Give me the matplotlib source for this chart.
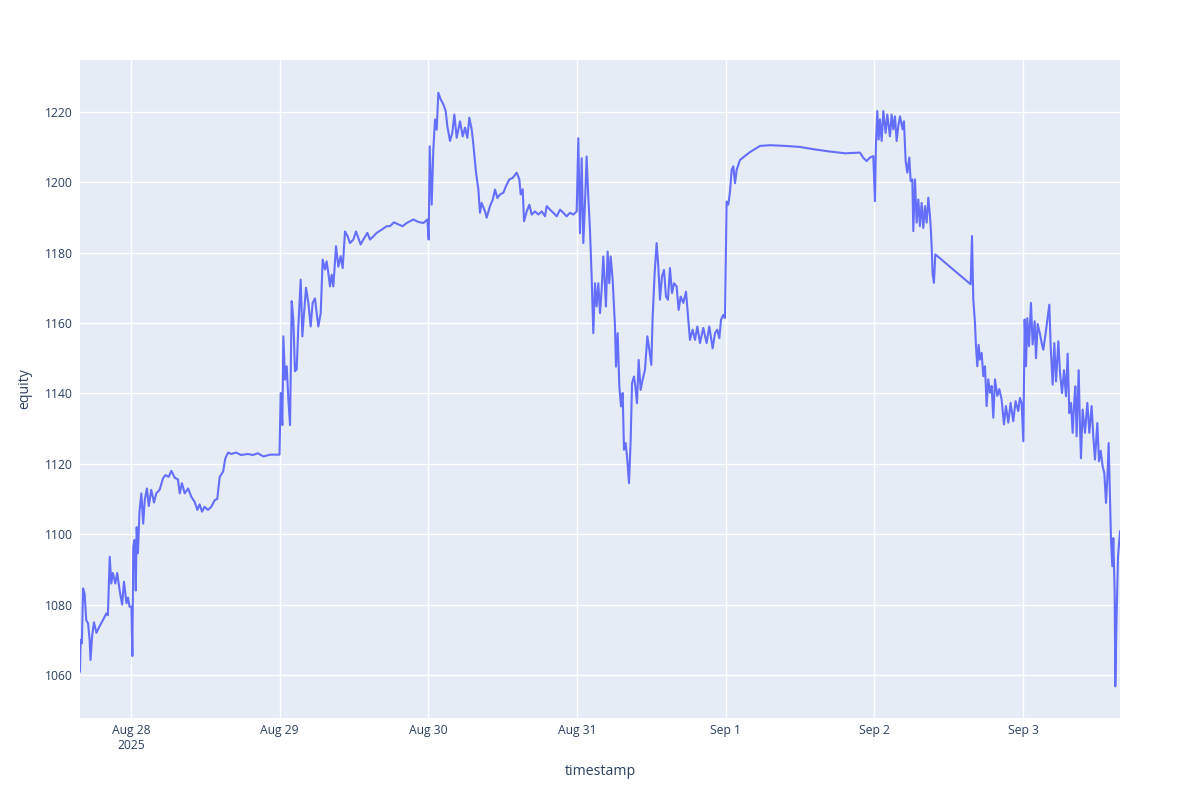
import pandas as pd
import matplotlib.pyplot as plt
import matplotlib.dates as mdates
from matplotlib.ticker import FuncFormatter

plt.rcParams['font.family'] = ['Open Sans', 'DejaVu Sans']

# hours since the first sample
hours = [
    0.0, 0.1, 0.3, 0.5, 0.75, 1.0, 1.3, 1.55, 1.7, 1.95, 2.25, 2.65, 3.2, 3.7, 4.25, 4.5, 4.8, 5.05, 5.3, 5.7,
    6.0, 6.4, 6.8, 7.1, 7.5, 7.75, 8.0, 8.3, 8.45, 8.6, 8.8, 9.0, 9.15, 9.35, 9.6, 9.9, 10.2, 10.45, 10.8, 11.1,
    11.5, 11.95, 12.3, 12.85, 13.4, 13.8, 14.3, 14.75, 15.3, 15.8, 16.1, 16.45, 16.9, 17.45, 17.95, 18.5, 18.95,
    19.3, 19.7, 20.1, 20.65, 21.2, 21.75, 22.15, 22.55, 23.1, 23.45, 23.9, 24.4, 25.2, 26.0, 27.1, 27.9, 28.7,
    29.6, 30.7, 32.2, 32.39, 32.66, 32.82, 33.09, 33.36, 33.63, 33.9, 34.17, 34.43, 34.7, 34.97, 35.24, 35.62,
    35.89, 36.16, 36.48, 36.86, 37.23, 37.55, 37.93, 38.2, 38.47, 38.85, 39.17, 39.55, 39.81, 40.08, 40.35,
    40.62, 40.89, 41.32, 41.7, 42.07, 42.4, 42.77, 43.2, 43.58, 44.12, 44.55, 44.93, 45.3, 45.73, 46.38, 46.81,
    47.35, 47.88, 48.69, 49.5, 50.04, 50.68, 51.38, 52.08, 52.73, 53.8, 54.61, 55.42, 56.06, 56.28, 56.44,
    56.76, 57.03, 57.3, 57.57, 57.84,
    58.22, 58.65, 59.02, 59.29, 59.72, 60.1, 60.42, 60.8, 61.34, 61.77, 62.14, 62.52, 62.84, 63.22, 63.49,
    63.92, 64.3, 64.56, 64.83, 65.37, 65.64, 66.18, 66.61, 66.99, 67.36, 67.79, 68.33, 68.76, 69.3, 69.84,
    70.48, 70.91, 71.13, 71.45, 71.67, 72.1, 72.53, 72.9, 73.44, 73.98, 74.52, 75.06, 75.32, 75.86, 76.4,
    76.94, 77.48, 78.01, 78.55, 79.09, 79.63, 80.17,
    80.43, 80.7, 80.97, 81.24, 81.51, 81.77, 82.04, 82.31, 82.58, 82.85, 83.12, 83.39, 83.66, 83.93, 84.2,
    84.46, 84.73, 84.89, 85.16, 85.43, 85.65, 85.97, 86.35, 86.51, 86.78, 87.05, 87.32, 87.59, 87.8, 88.07,
    88.34, 88.61, 88.88, 89.1, 89.41, 89.63, 89.9, 90.17, 90.49, 90.81, 91.19, 91.57, 91.89, 92.21, 92.43,
    92.75, 93.07, 93.34, 93.61, 93.93, 94.26, 94.58, 94.9, 95.22, 95.55, 95.87, 96.3, 96.62, 96.95, 97.38,
    97.81, 98.18, 98.45, 98.88, 99.26, 99.64, 100.07, 100.6, 101.14, 101.57, 102.11, 102.49, 102.86, 103.19,
    103.46, 103.83, 104.1, 104.37, 104.64, 104.91, 105.18, 105.45, 105.72, 105.99, 106.52,
    108.1, 109.75, 111.4, 113.8, 116.2, 118.6, 121.05, 123.5,
    125.89, 126.43, 126.97, 127.5, 128.04, 128.31, 128.47, 128.69, 128.9, 129.12, 129.39, 129.66, 130.03,
    130.3, 130.73, 131.0, 131.27, 131.54, 131.81, 132.08, 132.35, 132.78, 132.99, 133.26, 133.53, 133.85,
    134.07, 134.34, 134.5, 134.77, 135.04, 135.31, 135.57, 135.84, 136.11, 136.38, 136.65, 136.92, 137.19,
    137.3, 137.46, 137.62, 137.83, 138.05, 143.75, 143.97, 144.18, 144.45, 144.61, 144.83, 145.04, 145.26,
    145.53, 145.8, 146.07, 146.33, 146.6, 146.87, 147.14, 147.41, 147.68, 148.06, 148.38, 148.75, 149.13,
    149.45, 149.83, 150.2, 150.63, 151.01, 151.44, 151.71, 151.98,
    152.26, 152.47, 152.69, 152.9, 153.17, 153.49, 153.76, 154.09, 154.3, 154.57, 154.95, 155.22, 155.48,
    155.86, 156.13, 156.45, 156.67, 156.99, 157.26, 157.53, 157.91, 158.18, 158.5, 158.82, 159.14, 159.41,
    159.68, 159.95, 160.22, 160.43, 160.65, 160.86, 161.19, 161.4, 161.56, 161.83, 162.21, 162.59, 162.91,
    163.28, 163.55, 163.82, 164.2, 164.47, 164.74, 165.06, 165.33, 165.6, 165.81, 166.03, 166.24, 166.41,
    166.62, 166.78, 167.0, 167.1, 167.32, 167.54, 167.86,
]

equity = [
    1061, 1070, 1069, 1084.6, 1083, 1075.6, 1074.7, 1070, 1064.3, 1071, 1075, 1072, 1074, 1075.6, 1077.5, 1077,
    1093.6, 1086, 1089, 1086, 1089, 1084, 1080, 1086.5, 1080.4, 1082, 1079.4, 1079.4, 1065.4, 1096.5, 1098.4,
    1084, 1102, 1094.6, 1106.4, 1111.6, 1103, 1109.7, 1113, 1108, 1112.6, 1109, 1111.6, 1112.6, 1115.9, 1116.8,
    1116.3, 1118, 1116, 1115.6, 1111.6, 1114.5, 1111.6, 1113, 1110.7, 1109.2, 1106.9, 1108.5, 1106.4, 1107.8,
    1106.9, 1107.8, 1109.7, 1110, 1116.3, 1117.8, 1121.5, 1123.2, 1122.8, 1123.2, 1122.5, 1122.8, 1122.5, 1123,
    1122.1, 1122.6, 1122.6, 1140.1, 1131, 1156.2, 1143.9, 1147.7, 1138.2, 1131, 1166.2, 1161, 1146.3, 1146.8,
    1159, 1172.3, 1156.2, 1162.8, 1170, 1165.7, 1159, 1165.7, 1167, 1162.8, 1159, 1162.8, 1178, 1175.2, 1177.5,
    1174.2, 1170.4, 1173.7, 1170.4, 1181.8, 1176, 1179, 1175.6, 1186, 1184.6, 1182.7, 1183.7, 1186, 1184.1,
    1182.3, 1183.7, 1185.6, 1183.7, 1184.6, 1185.6, 1186.5, 1187.5, 1187.5, 1188.6, 1188, 1187.5, 1188.4,
    1189.4, 1188.7, 1188.4, 1189.4, 1183.7, 1210.2, 1193.6, 1209.3, 1217.8, 1214.9, 1225.4,
    1223.5, 1222.1, 1220.2, 1215.9, 1211.7, 1214.1, 1219.2, 1212.6, 1217.3, 1213, 1215.5, 1212.6, 1218.3,
    1215, 1210.7, 1202.7, 1197.9, 1191.3, 1194.1, 1191.7, 1189.9, 1193.2, 1195, 1197.9, 1195.5, 1196.5, 1197,
    1198.9, 1200.8, 1201.2, 1202.7, 1200.8, 1196.5, 1198, 1188.9, 1191.7, 1193.6, 1190.8, 1191.7, 1190.8,
    1191.7, 1190.3, 1193.2, 1192.2, 1191.3, 1190.3, 1192.2, 1191.3, 1190.3, 1191.3, 1190.8, 1191.7,
    1212.5, 1185.5, 1206.8, 1182.7, 1194.1, 1207.3, 1195.9, 1186.5, 1173.2, 1157.1, 1171.3, 1164.7, 1171.3,
    1162.8, 1169.5, 1178.9, 1170.4, 1164.7, 1180.3, 1171.3, 1178.9, 1172.3, 1159, 1147.6, 1157.1, 1142,
    1136.3, 1140.1, 1124, 1125.9, 1121.1, 1114.5, 1126.8, 1142.9, 1144.8, 1142, 1137.2, 1149.5, 1141, 1143.9,
    1146.7, 1156.2, 1152.4, 1148.1, 1161.8, 1174.1, 1182.7, 1176.1, 1166.6, 1173.2, 1175.1, 1167.5, 1166.6,
    1175.6, 1168.5, 1171.3, 1170.4, 1163.7, 1167.5, 1165.7, 1168.9, 1160.9, 1155.2, 1158.1, 1155.2, 1159,
    1154.3, 1158.6, 1154.3, 1159, 1152.8, 1157.1, 1158.1, 1155.7, 1160.9, 1162.3, 1161.4, 1194.5, 1193.6,
    1197.3, 1203.5, 1204.5, 1199.7, 1203.5, 1206.3,
    1208.5, 1210.3, 1210.5, 1210.3, 1210, 1209.3, 1208.7, 1208.2,
    1208.4, 1206.9, 1206, 1207, 1207.4, 1194.6, 1211.2, 1220.2, 1212.1, 1217.8, 1211.7, 1220.2, 1214, 1219.2,
    1213, 1219.2, 1215, 1218.7, 1211.7, 1216, 1218.7, 1215, 1217.3, 1206, 1202.7, 1207, 1200.3, 1200.8,
    1186.1, 1200.8, 1188.5, 1195.1, 1187.5, 1194.1, 1187, 1193.2, 1188.5, 1195.6, 1190.3, 1187.5, 1181.8,
    1173.8, 1171.4, 1179.5, 1171, 1184.7, 1166.7, 1160.1, 1153.4, 1147.7, 1153.8, 1149.6, 1151.5, 1144.9,
    1147.7, 1136.4, 1144, 1140.2, 1142.1, 1133.1, 1144, 1139.3, 1141.2, 1138.3, 1131.2, 1136.4, 1131.7,
    1137.3, 1132.1, 1137.8, 1135, 1138.7, 1137.3,
    1126.4, 1161, 1147.7, 1161.4, 1153.4, 1165.7, 1153.9, 1160.5, 1150, 1159.7, 1156.8, 1154.3, 1152.4,
    1157.1, 1160.9, 1165.2, 1153.4, 1142.5, 1154.3, 1143.4, 1154.8, 1145.8, 1140.1, 1146.6, 1139.2, 1151.3,
    1134.4, 1137.3, 1128.8, 1136.4, 1142, 1127.8, 1146.6, 1130.6, 1121.6, 1135.4, 1128.8, 1137.3, 1128.8,
    1136.4, 1127.8, 1121.2, 1131.6, 1120.7, 1123.7, 1119.3, 1117.3, 1108.9, 1115.5, 1125.9, 1110.8, 1098.4,
    1090.9, 1098.9, 1083.3, 1056.8, 1077.6, 1093.7, 1100.8,
]

start = pd.Timestamp("2025-08-27 15:46")
timestamp = start + pd.to_timedelta(hours, unit="h")

text_col = '#2a3f5f'

fig = plt.figure(figsize=(12, 8), dpi=100)
ax = fig.add_axes([80 / 1200, 82 / 800, 1040 / 1200, 658 / 800])
ax.set_facecolor('#E5ECF6')
for s in ax.spines.values():
    s.set_visible(False)
ax.grid(True, color='white', linewidth=1.0)
ax.set_axisbelow(True)

ax.plot(timestamp, equity, color='#636EFA', linewidth=1.5)

ax.set_xlim(timestamp.min(), timestamp.max())
ax.set_ylim(1047.8, 1234.7)
ax.set_yticks(range(1060, 1221, 20))

ax.xaxis.set_major_locator(mdates.DayLocator())


def fmt_date(x, pos):
    d = mdates.num2date(x)
    label = d.strftime('%b ') + str(d.day)
    if d.month == 8 and d.day == 28:
        label += '\n2025'
    return label


ax.xaxis.set_major_formatter(FuncFormatter(fmt_date))
ax.tick_params(length=0, labelsize=8.7, colors=text_col)
ax.tick_params(axis='x', pad=4)
ax.tick_params(axis='y', pad=5)

ax.set_xlabel('timestamp', fontsize=10.2, color=text_col)
ax.set_ylabel('equity', fontsize=10.2, color=text_col)
ax.xaxis.set_label_coords(0.5, -(764 - 718) / 658)
ax.yaxis.set_label_coords(-(80 - 32) / 1040, 0.5)

fig.savefig('out.png', dpi=100)
